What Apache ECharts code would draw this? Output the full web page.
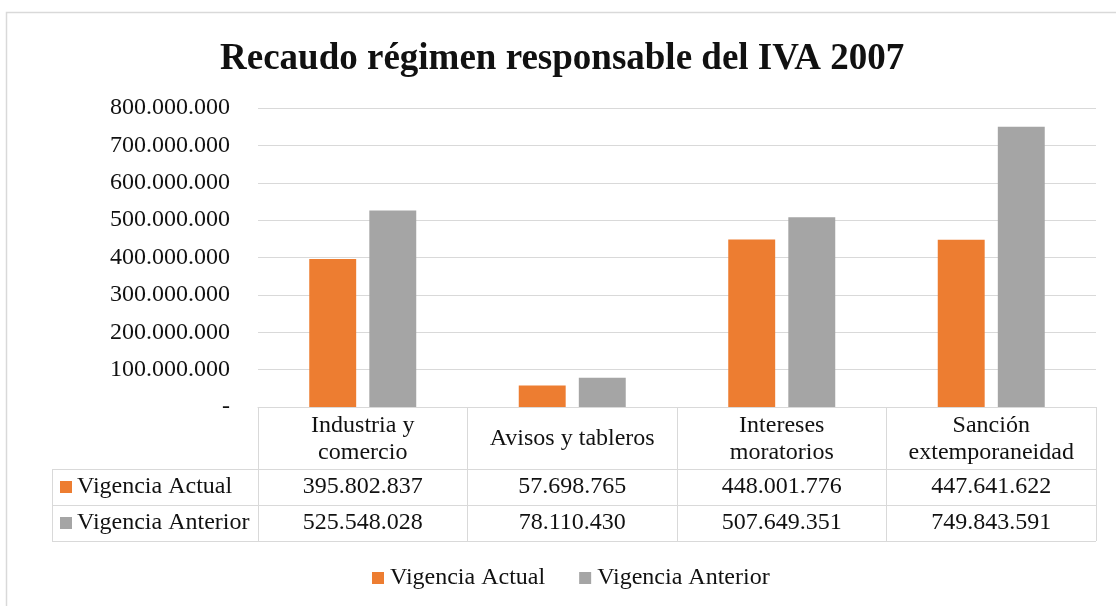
<!DOCTYPE html>
<html>
<head>
<meta charset="utf-8">
<script src="https://cdn.jsdelivr.net/npm/echarts@6/dist/echarts.min.js"></script>
<style>
html,body{margin:0;padding:0;background:#fff;}
#chart{width:1116px;height:606px;}
</style>
</head>
<body>
<div id="chart"></div>
<script>
const titleText = 'Recaudo régimen responsable del IVA 2007';
const categories = ['Industria y\ncomercio', 'Avisos y tableros', 'Intereses\nmoratorios', 'Sanción\nextemporaneidad'];
const seriesNames = ['Vigencia Actual', 'Vigencia Anterior'];
const vigenciaActual = [395802837, 57698765, 448001776, 447641622];
const vigenciaAnterior = [525548028, 78110430, 507649351, 749843591];
const yMin = 0, yMax = 800000000, yInterval = 100000000;

const colors = ['#ED7D31', '#A5A5A5'];
const FONT = "'Liberation Serif', 'Times New Roman', serif";
const TXT = '#111';
const LINE = '#D9D9D9';
const FS = 24;

function fmt(v) {
  if (v === 0) return '-';
  return String(v).replace(/\B(?=(\d{3})+(?!\d))/g, '.');
}

const chart = echarts.init(document.getElementById('chart'), null, {renderer: 'canvas'});
const option = {
  animation: false,
  backgroundColor: '#fff',
  color: colors,
  title: {
    text: titleText, left: 220, top: 41, padding: 0,
    textStyle: {fontFamily: FONT, fontSize: 37, fontWeight: 'bold', color: TXT}
  },
  legend: {
    data: seriesNames, left: 372, top: 566, padding: 0, icon: 'rect', itemWidth: 12, itemHeight: 12, itemGap: 34,
    textStyle: {fontFamily: FONT, fontSize: FS, color: TXT, padding: [0, 0, 0, 1]}
  },
  grid: {left: 258, right: 20, top: 108, bottom: 199, containLabel: false},
  xAxis: {
    type: 'category', data: categories,
    axisLine: {show: true, lineStyle: {color: LINE, width: 1}},
    axisTick: {show: true, length: 134, lineStyle: {color: LINE, width: 1}},
    axisLabel: {fontFamily: FONT, fontSize: FS, lineHeight: 27, color: TXT, margin: 32, verticalAlign: 'middle', interval: 0}
  },
  yAxis: {
    type: 'value', min: yMin, max: yMax, interval: yInterval,
    axisLine: {show: false}, axisTick: {show: false},
    splitLine: {lineStyle: {color: LINE, width: 1}},
    axisLabel: {fontFamily: FONT, fontSize: FS, color: TXT, margin: 28, padding: [3, 0, 0, 0], formatter: fmt}
  },
  series: [
    {name: seriesNames[0], type: 'bar', data: vigenciaActual, barWidth: '22.4%', barGap: '28%', itemStyle: {color: colors[0]}},
    {name: seriesNames[1], type: 'bar', data: vigenciaAnterior, barWidth: '22.4%', barGap: '28%', itemStyle: {color: colors[1]}}
  ]
};
chart.setOption(option);

// Data table below the axis, positioned from the chart's own scales
const rows = [vigenciaActual, vigenciaAnterior];
const y0 = chart.convertToPixel({yAxisIndex: 0}, 0);
const cx = categories.map((c, i) => chart.convertToPixel({xAxisIndex: 0}, i));
const half = (cx[1] - cx[0]) / 2;
const xR = cx[cx.length - 1] + half;
const headerH = 62, rowH = 36, labelColL = 52;
const g = [];
// outer border
g.push({type: 'rect', shape: {x: 6.5, y: 12.5, width: 1130, height: 620}, style: {fill: null, stroke: '#D9D9D9', lineWidth: 1.5}, silent: true});
const rowTop = y0 + headerH;
for (let r = 0; r <= rows.length; r++) {
  const yy = Math.round(rowTop + r * rowH) + 0.5;
  g.push({type: 'line', shape: {x1: labelColL, y1: yy, x2: xR, y2: yy}, style: {stroke: LINE, lineWidth: 1}, silent: true});
}
g.push({type: 'line', shape: {x1: labelColL + 0.5, y1: rowTop, x2: labelColL + 0.5, y2: rowTop + rows.length * rowH}, style: {stroke: LINE, lineWidth: 1}, silent: true});
rows.forEach((vals, r) => {
  const cy = rowTop + r * rowH + rowH / 2;
  g.push({type: 'rect', shape: {x: 60, y: cy - 6, width: 12, height: 12}, style: {fill: colors[r]}, silent: true});
  g.push({type: 'text', x: 77, y: cy, style: {text: seriesNames[r], font: FS + 'px ' + FONT, fill: TXT, verticalAlign: 'middle', align: 'left'}, silent: true});
  vals.forEach((v, i) => {
    g.push({type: 'text', x: cx[i], y: cy, style: {text: fmt(v), font: FS + 'px ' + FONT, fill: TXT, verticalAlign: 'middle', align: 'center'}, silent: true});
  });
});
chart.setOption({graphic: g});
</script>
</body>
</html>
